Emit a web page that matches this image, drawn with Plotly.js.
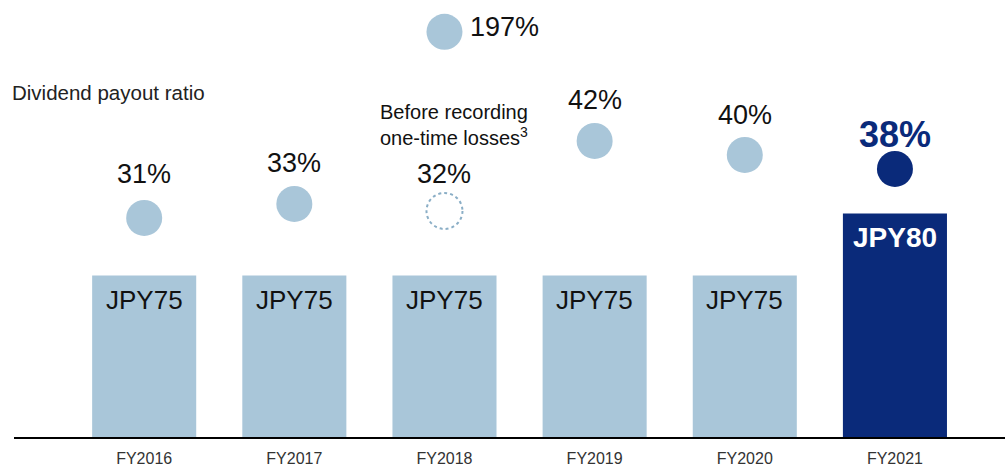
<!DOCTYPE html>
<html><head><meta charset="utf-8">
<script src="https://cdn.plot.ly/plotly-3.0.1.min.js"></script>
<style>body{margin:0;padding:0;background:#fff}#chart{width:1005px;height:469px}</style>
</head><body><div id="chart"></div>
<script>
// Data
const categories = ["FY2016","FY2017","FY2018","FY2019","FY2020","FY2021"];
const dividendJPY = [75, 75, 75, 75, 75, 80];
const dividendLabels = ["JPY75","JPY75","JPY75","JPY75","JPY75","JPY80"];
const payoutRatio = [31, 33, 32, 42, 40, 38];      // FY2018 value = before one-time losses
const payoutLabels = ["31%","33%","32%","42%","40%","38%"];
const fy2018ActualPayout = 197;
const fy2018ActualLabel = "197%";

// Styles
const LIGHT = "#a9c6d9", NAVY = "#0a2a7a";
const FONT = "Liberation Sans, Arial, sans-serif";
const AXIS_CAP = 57.6; // broken axis: off-scale value drawn at cap
const labelShift = [44, 41, 37, 41, 40, 34];
const xs = categories.map((c,i)=>i);
const last = categories.length-1;
const barColors = dividendJPY.map((v,i)=> i===last ? NAVY : LIGHT);

const traces = [];
traces.push({
  type:"bar", x: xs, y: dividendJPY, width: 0.693,
  marker:{color: barColors, line:{width:0}},
  hoverinfo:"skip", showlegend:false
});
const solidIdx = [0,1,3,4,5];
traces.push({
  type:"scatter", mode:"markers", yaxis:"y2",
  x: solidIdx.map(i=>xs[i]), y: solidIdx.map(i=>payoutRatio[i]),
  marker:{size:36, color: solidIdx.map(i=> i===last ? NAVY : LIGHT), line:{width:0}},
  hoverinfo:"skip", showlegend:false, cliponaxis:false
});
traces.push({
  type:"scatter", mode:"markers", yaxis:"y2",
  x:[xs[2]], y:[Math.min(fy2018ActualPayout, AXIS_CAP)],
  marker:{size:36, color: LIGHT, line:{width:0}},
  hoverinfo:"skip", showlegend:false, cliponaxis:false
});

const annotations = [];
payoutRatio.forEach((v,i)=>{
  annotations.push({
    x: xs[i], y: v, xref:"x", yref:"y2",
    text: i===last ? "<b>"+payoutLabels[i]+"</b>" : payoutLabels[i],
    showarrow:false, yshift: labelShift[i],
    font:{family:FONT, size: i===last ? 36 : 27, color: i===last ? NAVY : "#111"}
  });
});
dividendJPY.forEach((v,i)=>{
  annotations.push({
    x: xs[i], y: v, xref:"x", yref:"y",
    text: i===last ? "<b>"+dividendLabels[i]+"</b>" : dividendLabels[i],
    showarrow:false, yshift: -24,
    font:{family:FONT, size: i===last ? 28 : 26, color: i===last ? "#ffffff" : "#111"}
  });
});
annotations.push({
  x: xs[2], y: Math.min(fy2018ActualPayout, AXIS_CAP), xref:"x", yref:"y2",
  text: fy2018ActualLabel, showarrow:false, xanchor:"left", xshift:24, yshift:5,
  font:{family:FONT, size:27, color:"#111"}
});
annotations.push({
  x: (10-14)/991, y: 1-(93)/437, xref:"paper", yref:"paper", text:"Dividend payout ratio", showarrow:false,
  xanchor:"left", yanchor:"middle",
  font:{family:FONT, size:20.5, color:"#222"}
});
annotations.push({
  x: xs[2], y: payoutRatio[2], xref:"x", yref:"y2",
  text:"Before recording<br>one-time losses<sup>3</sup>", showarrow:false,
  xanchor:"center", xshift:10, yshift: 86, align:"left",
  font:{family:FONT, size:20, color:"#111"}
});

const layout = {
  width:1005, height:469,
  margin:{l:14, r:0, t:0, b:32},
  paper_bgcolor:"#fff", plot_bgcolor:"#fff",
  xaxis:{range:[-0.867, 5.733], tickvals: xs, ticktext: categories, showgrid:false, zeroline:false,
    showline:true, linecolor:"#000", linewidth:2, ticks:"", ticklabelstandoff:6,
    tickfont:{family:FONT, size:16, color:"#333"}, fixedrange:true},
  yaxis:{range:[62.0, 97.2], visible:false, fixedrange:true},
  yaxis2:{range:[-0.29, 62.14], overlaying:"y", visible:false, fixedrange:true},
  annotations: annotations,
  shapes:[{
    type:"circle", xref:"x", yref:"y2",
    xsizemode:"pixel", ysizemode:"pixel", xanchor: xs[2], yanchor: payoutRatio[2],
    x0:-18, x1:18, y0:-18, y1:18,
    line:{color:"#8aaec6", width:2, dash:"dot"}
  }],
  showlegend:false
};
Plotly.newPlot("chart", traces, layout, {displayModeBar:false, staticPlot:true});
</script></body></html>
